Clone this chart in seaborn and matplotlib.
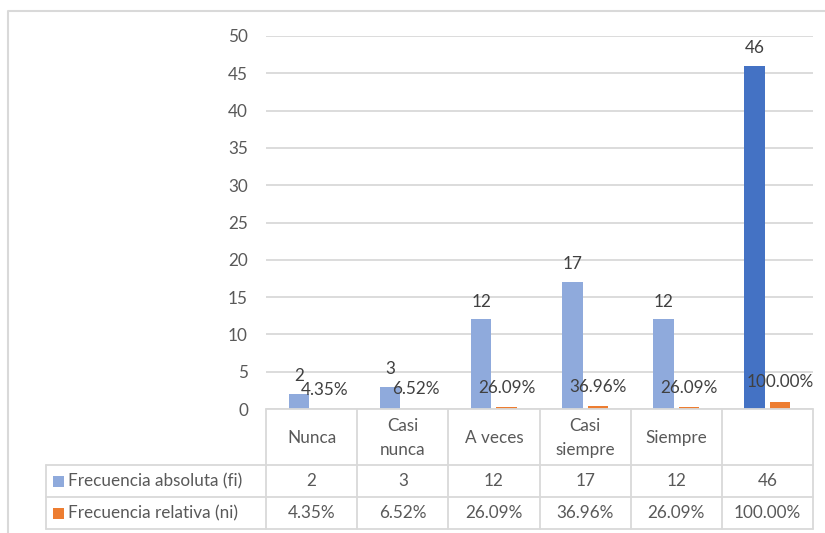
import matplotlib
matplotlib.use("Agg")
import matplotlib.pyplot as plt
import matplotlib.transforms as mtransforms
from matplotlib.lines import Line2D
from matplotlib.patches import Rectangle
import seaborn as sns
import pandas as pd

# --- data ---------------------------------------------------------------
categories = ["Nunca", "Casi nunca", "A veces", "Casi siempre", "Siempre", "Total"]
header_labels = ["Nunca", "Casi\nnunca", "A veces", "Casi\nsiempre", "Siempre", ""]
series_names = ["Frecuencia absoluta (fi)", "Frecuencia relativa (ni)"]
abs_freq = [2, 3, 12, 17, 12, 46]
rel_freq = [0.0435, 0.0652, 0.2609, 0.3696, 0.2609, 1.0]
y_ticks = [0, 5, 10, 15, 20, 25, 30, 35, 40, 45, 50]

# --- style --------------------------------------------------------------
sns.set_style("white")
plt.rcParams["font.family"] = ["Lato", "DejaVu Sans"]
TXT = "#595959"
LBL = "#404040"
GRID = "#D9D9D9"
C_ABS = "#8FAADC"
C_ABS_TOTAL = "#4472C4"
C_REL = "#ED7D31"
FS = 12.3

W, H = 825, 533
fig = plt.figure(figsize=(W / 100, H / 100), dpi=100)


def fy(py):
    """pixel row (from top) -> figure fraction"""
    return 1 - py / H


def fx(px):
    return px / W


y0_px, y50_px = 409, 36
x_left_px, x_right_px = 266, 813
ax = fig.add_axes([fx(x_left_px), fy(y0_px),
                   fx(x_right_px) - fx(x_left_px), (y0_px - y50_px) / H])

df = pd.DataFrame({
    "categoria": categories * 2,
    "serie": [series_names[0]] * len(categories) + [series_names[1]] * len(categories),
    "valor": abs_freq + rel_freq,
})

sns.barplot(data=df, x="categoria", y="valor", hue="serie",
            order=categories, hue_order=series_names,
            palette=[C_ABS, C_REL], saturation=1, width=0.56, gap=0.2,
            linewidth=0, errorbar=None, legend=False, ax=ax)

# total column is drawn in the darker blue
ax.containers[0][len(categories) - 1].set_facecolor(C_ABS_TOTAL)

# data labels
ax.bar_label(ax.containers[0], labels=[str(v) for v in abs_freq],
             padding=7, fontsize=FS, color=LBL)
ax.bar_label(ax.containers[1], labels=[f"{v:.2%}" for v in rel_freq],
             padding=8, fontsize=FS, color=LBL)

ax.set_xlim(-0.5, len(categories) - 0.5)
ax.set_ylim(0, 50)
ax.set_yticks(y_ticks)
ax.yaxis.grid(True, color=GRID, linewidth=1.3)
ax.set_axisbelow(True)
for s in ax.spines.values():
    s.set_visible(False)
ax.tick_params(axis="y", length=0, pad=13, labelsize=FS, labelcolor=TXT)
ax.tick_params(axis="x", length=0, labelbottom=False)
ax.set_xlabel("")
ax.set_ylabel("")

# --- data table under the plot -------------------------------------------
bt = mtransforms.blended_transform_factory(ax.transData, fig.transFigure)
lw = 1.3
row_top, row1, row2, row_bot = 409, 465, 497, 529
table_left_px = 46
n = len(categories)

# horizontal rules
fig.add_artist(Line2D([-0.5, n - 0.5], [fy(row_top)] * 2, transform=bt, color=GRID, lw=lw))
for py in (row1, row2, row_bot):
    fig.add_artist(Line2D([fx(table_left_px), fx(x_right_px)], [fy(py)] * 2,
                          transform=fig.transFigure, color=GRID, lw=lw))
# vertical rules
for i in range(n + 1):
    fig.add_artist(Line2D([i - 0.5] * 2, [fy(row_top), fy(row_bot)],
                          transform=bt, color=GRID, lw=lw))
fig.add_artist(Line2D([fx(table_left_px)] * 2, [fy(row1), fy(row_bot)],
                      transform=fig.transFigure, color=GRID, lw=lw))

# header row
for i, lab in enumerate(header_labels):
    fig.text(i, fy(438), lab, transform=bt, ha="center", va="center",
             fontsize=FS, color=TXT, linespacing=1.6)

# value rows with legend keys
row_centers = [481, 513]
row_values = [[str(v) for v in abs_freq], [f"{v:.2%}" for v in rel_freq]]
for name, color, cy, vals in zip(series_names, [C_ABS, C_REL], row_centers, row_values):
    fig.add_artist(Rectangle((fx(53), fy(cy + 6)), 11 / W, 11 / H,
                             transform=fig.transFigure, facecolor=color, edgecolor="none"))
    fig.text(fx(68), fy(cy), name, ha="left", va="center", fontsize=FS, color=TXT)
    for i, v in enumerate(vals):
        fig.text(i, fy(cy), v, transform=bt, ha="center", va="center",
                 fontsize=FS, color=TXT)

# chart area border (top and left edges)
fig.add_artist(Line2D([fx(8), fx(8), 1.0], [0.0, fy(11), fy(11)],
                      transform=fig.transFigure, color=GRID, lw=1.5))

fig.savefig("out.png", dpi=100)
